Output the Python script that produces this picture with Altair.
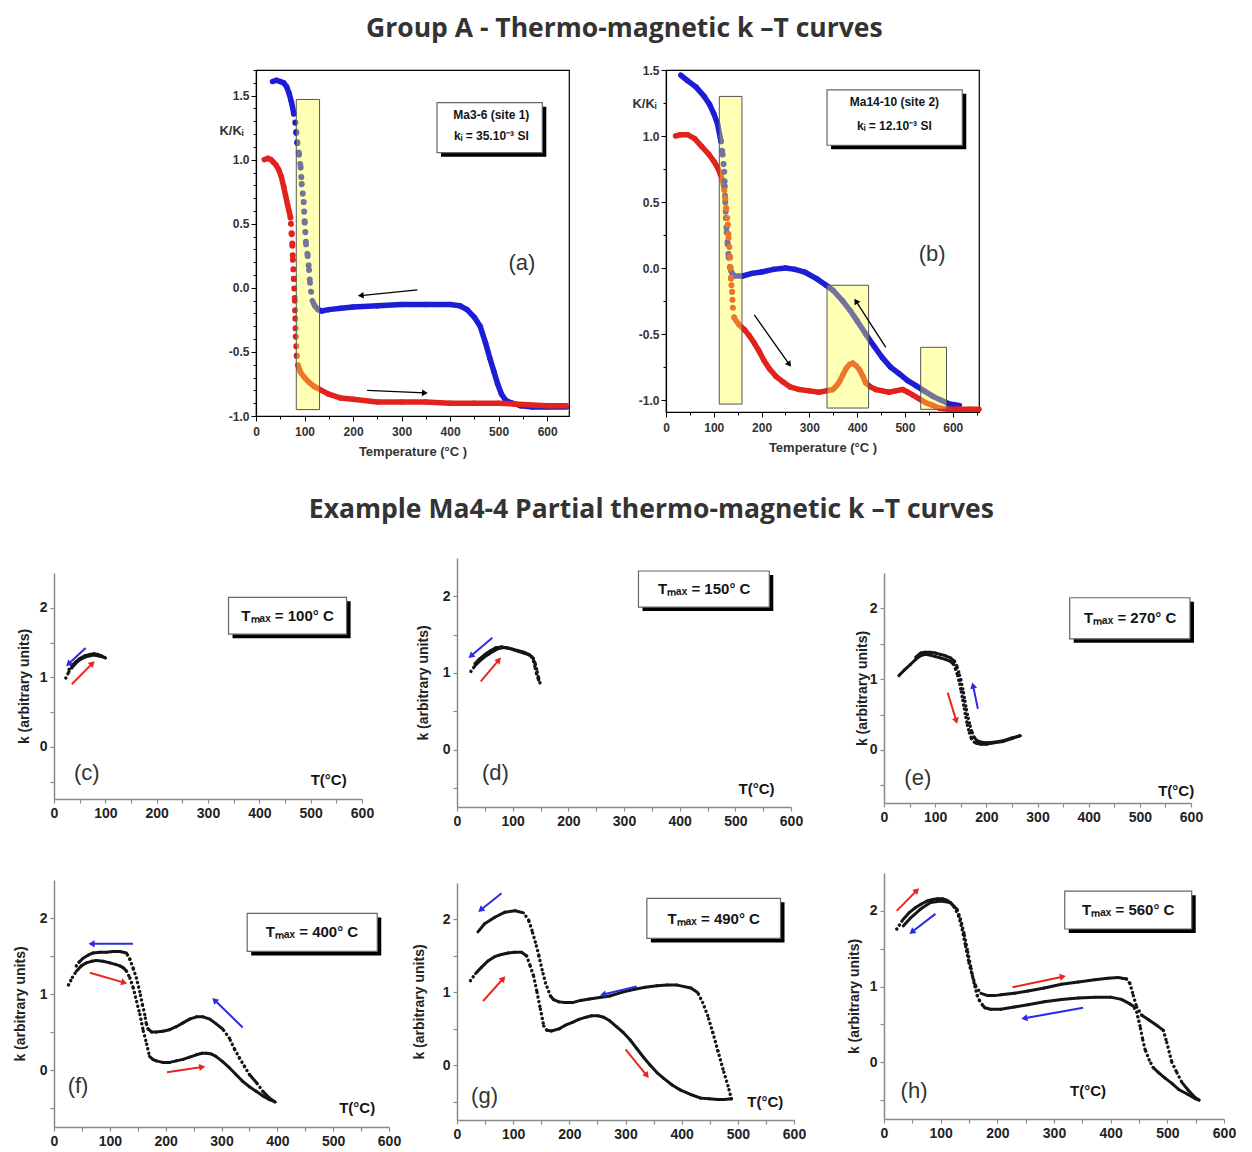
import math
import altair as alt
import pandas as pd

# ---------------------------------------------------------------- data
# (a) Ma3-6 (site 1)
A_COOL_T = [34, 42, 50, 57, 63, 68, 73, 78, 81, 83.1, 85.2, 88.7, 92.1, 94.2, 98.3, 100.3, 103.1, 106.5, 109.3, 111.3,
            113.5, 116, 121, 128, 135, 150, 175, 200, 250, 300, 350, 400, 420, 435, 450, 462, 473, 482, 490, 498, 506,
            515, 528, 545, 570, 600, 640]
A_COOL_K = [1.61, 1.62, 1.61, 1.60, 1.57, 1.52, 1.45, 1.36, 1.29, 1.21, 1.13, 1.04, 0.94, 0.81, 0.67, 0.51, 0.34, 0.25,
            0.14, 0.04, -0.03, -0.10, -0.14, -0.17, -0.18, -0.17, -0.16, -0.15, -0.14, -0.13, -0.13, -0.13, -0.14, -0.17,
            -0.23, -0.30, -0.43, -0.55, -0.65, -0.75, -0.83, -0.88, -0.90, -0.92, -0.93, -0.93, -0.93]
A_HEAT_T = [17, 25, 31, 36, 41, 47, 52, 57, 61, 65, 68, 71, 72, 73.5, 75, 76, 78, 80, 81, 82, 84, 87, 92, 100, 110, 120,
            135, 150, 175, 200, 250, 300, 350, 400, 450, 500, 550, 600, 640]
A_HEAT_K = [1.00, 1.01, 1.00, 0.98, 0.96, 0.92, 0.87, 0.79, 0.72, 0.65, 0.60, 0.55, 0.50, 0.42, 0.33, 0.22, 0.07, -0.10,
            -0.24, -0.38, -0.53, -0.61, -0.66, -0.70, -0.74, -0.77, -0.80, -0.83, -0.86, -0.87, -0.89, -0.89, -0.89,
            -0.90, -0.90, -0.90, -0.91, -0.92, -0.92]

# (b) Ma14-10 (site 2)
B_COOL_T = [31, 45, 63, 80, 91, 100, 108, 115, 118.5, 122, 123, 124, 125.5, 127, 129, 131, 134, 137, 143, 160, 180, 200,
            225, 250, 270, 290, 315, 335, 350, 370, 385, 400, 418, 435, 453, 470, 488, 505, 523, 540, 558, 575, 593, 614]
B_COOL_K = [1.46, 1.42, 1.37, 1.30, 1.24, 1.17, 1.09, 0.96, 0.86, 0.73, 0.62, 0.50, 0.38, 0.27, 0.18, 0.08, 0.0, -0.03,
            -0.06, -0.06, -0.04, -0.03, -0.01, 0.0, -0.01, -0.03, -0.08, -0.13, -0.17, -0.25, -0.32, -0.40, -0.50, -0.59,
            -0.68, -0.75, -0.80, -0.85, -0.89, -0.93, -0.97, -1.00, -1.03, -1.04]
B_HEAT_T = [20, 30, 45, 60, 75, 90, 100, 108, 114, 118.5, 122, 124, 126, 128, 129.5, 131, 132.5, 134, 135, 136, 137,
            138.3, 139, 140, 143, 153, 165, 174, 185, 195, 205, 216, 230, 244, 260, 279, 300, 320, 335, 349, 357, 363,
            370, 377, 384, 391, 398, 405, 412, 418, 428, 439, 453, 467, 480, 495, 506, 516, 530, 544, 558, 572, 590,
            614, 635, 655]
B_HEAT_K = [1.00, 1.01, 1.01, 0.98, 0.92, 0.86, 0.81, 0.76, 0.71, 0.66, 0.59, 0.53, 0.45, 0.38, 0.33, 0.23, 0.16, 0.08,
            0.0, -0.08, -0.13, -0.18, -0.24, -0.30, -0.38, -0.43, -0.47, -0.51, -0.57, -0.63, -0.70, -0.76, -0.82,
            -0.86, -0.90, -0.92, -0.93, -0.94, -0.93, -0.92, -0.89, -0.86, -0.81, -0.76, -0.73, -0.72, -0.74, -0.77,
            -0.82, -0.87, -0.90, -0.92, -0.93, -0.94, -0.93, -0.92, -0.94, -0.96, -0.99, -1.02, -1.04, -1.06, -1.07,
            -1.07, -1.07, -1.07]

# (c) Tmax = 100 C
C_HEAT_T = [23, 29, 35, 42, 50, 60, 70, 78, 85, 92, 100]
C_HEAT_K = [0.99, 1.08, 1.14, 1.20, 1.25, 1.29, 1.31, 1.32, 1.31, 1.30, 1.28]
C_COOL_T = [100, 92, 85, 78, 70, 60, 50, 42, 35, 29]
C_COOL_K = [1.28, 1.31, 1.33, 1.34, 1.33, 1.31, 1.27, 1.22, 1.17, 1.11]

# (d) Tmax = 150 C
D_HEAT_T = [25, 32, 40, 48, 58, 67, 75, 84, 93, 102, 111, 120, 128, 134, 138, 140.6, 143, 146.5, 149]
D_HEAT_K = [1.02, 1.09, 1.15, 1.20, 1.25, 1.29, 1.32, 1.33, 1.32, 1.30, 1.28, 1.26, 1.24, 1.21, 1.15, 1.06, 0.99, 0.91,
            0.87]
D_COOL_T = [149, 146, 143, 140, 137, 130, 120, 110, 100, 90, 80, 70, 60, 50, 40, 32]
D_COOL_K = [0.87, 0.95, 1.05, 1.13, 1.19, 1.24, 1.27, 1.29, 1.31, 1.33, 1.34, 1.33, 1.29, 1.24, 1.18, 1.12]

# (e) Tmax = 270 C
E_HEAT_T = [29, 40, 52, 62, 71, 80, 90, 100, 110, 120, 130, 136, 140, 144, 148, 151, 154, 157, 160, 163, 167, 171, 176,
            182, 190, 200, 215, 233, 250, 266]
E_HEAT_K = [1.05, 1.13, 1.21, 1.28, 1.33, 1.35, 1.34, 1.32, 1.30, 1.28, 1.25, 1.21, 1.14, 1.05, 0.93, 0.82, 0.70, 0.58,
            0.46, 0.35, 0.24, 0.16, 0.11, 0.09, 0.08, 0.08, 0.10, 0.12, 0.16, 0.20]
E_COOL_T = [266, 250, 233, 215, 200, 190, 182, 176, 171, 167, 163, 160, 157, 154, 150, 146, 142, 138, 130, 120, 110,
            100, 90, 80, 72, 62]
E_COOL_K = [0.20, 0.17, 0.13, 0.11, 0.10, 0.11, 0.13, 0.18, 0.27, 0.38, 0.50, 0.62, 0.74, 0.86, 0.99, 1.10, 1.19, 1.25,
            1.30, 1.33, 1.35, 1.37, 1.38, 1.38, 1.37, 1.31]

# (f) Tmax = 400 C
F_HEAT_T = [26, 33, 40, 49, 58, 67, 76, 88, 100, 110, 118, 125, 130, 136, 142, 148, 154, 160, 166, 171, 177, 183, 195,
            207, 219, 231, 243, 255, 265, 273, 282, 290, 302, 314, 326, 338, 350, 362, 374, 386, 396]
F_HEAT_K = [1.12, 1.22, 1.30, 1.37, 1.41, 1.43, 1.44, 1.43, 1.41, 1.39, 1.37, 1.34, 1.30, 1.21, 1.08, 0.90, 0.73, 0.51,
            0.34, 0.18, 0.14, 0.12, 0.10, 0.10, 0.12, 0.14, 0.17, 0.20, 0.22, 0.22, 0.21, 0.18, 0.11, 0.03, -0.06, -0.15,
            -0.22, -0.28, -0.34, -0.39, -0.42]
F_COOL_T = [396, 386, 374, 362, 350, 341, 332, 323, 314, 302, 290, 279, 267, 255, 243, 231, 219, 207, 195, 183, 175,
            168.5, 165, 162.5, 158.3, 153.6, 147.6, 141.7, 135.7, 129.8, 118, 106, 94, 82, 70, 61, 52, 45, 38]
F_COOL_K = [-0.42, -0.37, -0.28, -0.16, -0.06, 0.05, 0.16, 0.28, 0.42, 0.54, 0.61, 0.67, 0.70, 0.70, 0.67, 0.62, 0.57,
            0.53, 0.51, 0.50, 0.50, 0.54, 0.62, 0.73, 0.86, 1.03, 1.21, 1.34, 1.46, 1.54, 1.56, 1.56, 1.55, 1.55, 1.54,
            1.51, 1.47, 1.42, 1.35]

# (g) Tmax = 490 C
G_HEAT_T = [24, 33, 43, 55, 67, 79, 91, 103, 115, 124, 130.5, 136.5, 142.5, 148.5, 154.5, 160, 168, 181.6, 193, 205.6,
            217, 229.7, 240, 250.8, 261, 272, 284, 296, 308, 320, 332, 344, 356, 368, 383, 398, 416, 434, 449, 464, 476,
            488.5]
G_HEAT_K = [1.16, 1.26, 1.34, 1.43, 1.49, 1.52, 1.54, 1.55, 1.55, 1.50, 1.36, 1.22, 1.00, 0.77, 0.54, 0.48, 0.47, 0.50,
            0.55, 0.59, 0.63, 0.66, 0.68, 0.68, 0.66, 0.61, 0.53, 0.45, 0.35, 0.23, 0.11, 0.00, -0.10, -0.18, -0.27,
            -0.34, -0.40, -0.45, -0.46, -0.47, -0.47, -0.46]
G_COOL_T = [488.5, 482.5, 473.5, 464.4, 455.4, 446.4, 437.4, 428.4, 416.4, 392, 374, 356, 335, 314, 293, 272, 254, 236,
            220, 205.6, 192, 181.6, 172, 166.5, 157.5, 151.5, 145.5, 139.5, 133.5, 127.5, 118.5, 103.5, 85.5, 67.3,
            49.2, 37.2]
G_COOL_K = [-0.46, -0.28, -0.05, 0.20, 0.45, 0.68, 0.86, 1.00, 1.06, 1.10, 1.10, 1.09, 1.07, 1.04, 1.00, 0.95, 0.93,
            0.91, 0.89, 0.86, 0.86, 0.87, 0.90, 0.95, 1.13, 1.31, 1.51, 1.69, 1.85, 1.99, 2.09, 2.12, 2.10, 2.03, 1.94,
            1.83]

# (h) Tmax = 560 C
H_HEAT_T = [22.5, 34, 45, 55, 66, 76, 86, 94, 103, 111, 118, 124, 132, 138, 144, 150, 156, 162, 171, 183, 195, 206, 230,
            254, 283, 313, 343, 372, 395, 413, 428, 434, 440, 446, 455, 467, 481, 493, 499, 508, 517, 526, 537, 549.5,
            556]
H_HEAT_K = [1.76, 1.89, 1.98, 2.04, 2.09, 2.13, 2.15, 2.16, 2.16, 2.14, 2.10, 2.05, 1.93, 1.75, 1.53, 1.31, 1.14, 1.00,
            0.91, 0.88, 0.88, 0.89, 0.91, 0.94, 0.98, 1.03, 1.06, 1.09, 1.11, 1.12, 1.10, 1.04, 0.88, 0.73, 0.62, 0.56,
            0.49, 0.42, 0.26, 0.00, -0.14, -0.27, -0.37, -0.47, -0.50]
H_COOL_T = [556, 549.5, 535, 520, 508, 496, 485, 475, 468, 460.6, 456, 451.7, 446, 440, 434, 419, 400, 372, 343, 313,
            283, 254, 230, 206, 188, 178, 173.5, 168, 164.6, 158.7, 152.8, 146.9, 141, 135, 129, 117, 100, 82, 64, 46,
            34]
H_COOL_K = [-0.50, -0.48, -0.42, -0.36, -0.28, -0.21, -0.14, -0.07, 0.03, 0.17, 0.32, 0.48, 0.66, 0.74, 0.77, 0.83,
            0.86, 0.86, 0.85, 0.83, 0.80, 0.76, 0.73, 0.70, 0.70, 0.72, 0.76, 0.82, 0.88, 1.05, 1.27, 1.49, 1.71, 1.89,
            2.02, 2.11, 2.13, 2.11, 2.02, 1.90, 1.80]

# annotations (data units of each panel)
A_RECTS = [(83, 131, -0.95, 1.47)]
B_RECTS = [(111.5, 159, -1.03, 1.30), (337, 424, -1.06, -0.13), (533, 587, -1.07, -0.60)]
ARROWS = {
    "a": [(332.6, -0.016, 215.8, -0.06, "cool"), (229, -0.80, 348, -0.82, "heat")],
    "b": [(184.7, -0.354, 258, -0.73, "heat"), (460, -0.60, 397.5, -0.25, "cool")],
    "c": [(61.6, 1.42, 28, 1.19, "cool"), (34.6, 0.90, 74.8, 1.20, "heat")],
    "d": [(63.5, 1.46, 25, 1.22, "cool"), (42.7, 0.89, 75.4, 1.17, "heat")],
    "e": [(124.5, 0.81, 141.3, 0.41, "heat"), (183.5, 0.58, 174, 0.91, "cool")],
    "f": [(141.4, 1.66, 67.3, 1.66, "cool"), (64.3, 1.28, 125.7, 1.15, "heat"),
          (338, 0.56, 287.5, 0.92, "cool"), (202.4, -0.03, 265.5, 0.04, "heat")],
    "g": [(79.4, 2.36, 42.1, 2.13, "cool"), (46.3, 0.88, 82.4, 1.19, "heat"),
          (320, 1.08, 259.9, 0.97, "cool"), (300, 0.22, 338, -0.14, "heat")],
    "h": [(22.5, 2.0, 58, 2.27, "heat"), (90.7, 1.96, 49.2, 1.72, "cool"),
          (226.8, 0.99, 315.6, 1.13, "heat"), (351.3, 0.72, 247.6, 0.58, "cool")],
}
BOXES = {
    "a": (373, 590, 1.055, 1.445), "b": (337, 620, 0.93, 1.35),
    "c": (340, 570, 1.62, 2.15), "d": (326, 561, 1.86, 2.33), "e": (363, 598, 1.57, 2.15),
    "f": (346, 579, 1.56, 2.06), "g": (338, 576, 1.74, 2.29), "h": (319, 543, 1.76, 2.26),
}
BOX_TEXT = {
    "a": [(485, 1.35, "Ma3-6 (site 1)"), (485, 1.185, "kᵢ = 35.10⁻³ SI")],
    "b": [(478, 1.26, "Ma14-10 (site 2)"), (478, 1.075, "kᵢ = 12.10⁻³ SI")],
    "c": [(455, 1.88, "Tₘₐₓ = 100° C")], "d": [(444, 2.10, "Tₘₐₓ = 150° C")],
    "e": [(481, 1.86, "Tₘₐₓ = 270° C")], "f": [(462, 1.81, "Tₘₐₓ = 400° C")],
    "g": [(457, 2.01, "Tₘₐₓ = 490° C")], "h": [(431, 2.01, "Tₘₐₓ = 560° C")],
}
PANEL_LABEL = {
    "a": (548, 0.195), "b": (557, 0.11), "c": (64, -0.37), "d": (69, -0.30), "e": (66, -0.39),
    "f": (43, -0.21), "g": (49, -0.42), "h": (53, -0.38),
}
T_LABEL = {"c": (535, -0.47), "d": (538, -0.52), "e": (571, -0.58), "f": (543, -0.50),
           "g": (549, -0.50), "h": (360, -0.38)}

TITLE_TOP = "Group A - Thermo-magnetic k \u2013T curves"
TITLE_MID = "Example Ma4-4  Partial thermo-magnetic k \u2013T curves"

CURVES = {
    "a": [(A_COOL_T, A_COOL_K, "cool"), (A_HEAT_T, A_HEAT_K, "heat")],
    "b": [(B_COOL_T, B_COOL_K, "cool"), (B_HEAT_T, B_HEAT_K, "heat")],
    "c": [(C_HEAT_T, C_HEAT_K, "heat"), (C_COOL_T, C_COOL_K, "cool")],
    "d": [(D_HEAT_T, D_HEAT_K, "heat"), (D_COOL_T, D_COOL_K, "cool")],
    "e": [(E_HEAT_T, E_HEAT_K, "heat"), (E_COOL_T, E_COOL_K, "cool")],
    "f": [(F_HEAT_T, F_HEAT_K, "heat"), (F_COOL_T, F_COOL_K, "cool")],
    "g": [(G_HEAT_T, G_HEAT_K, "heat"), (G_COOL_T, G_COOL_K, "cool")],
    "h": [(H_HEAT_T, H_HEAT_K, "heat"), (H_COOL_T, H_COOL_K, "cool")],
}

# ---------------------------------------------------------------- style / layout
FONT = "Liberation Sans"
TFONT = "Open Sans"
BLUE = "#1d1dd6"
RED = "#e2221c"
A_BLUE = "#2b2be2"
A_RED = "#e8261f"
INK = "#151515"

LAYOUT = {
    "a": dict(w=313, h=346, xdom=[0, 645], ydom=[-1.0, 1.70], big=True, ystep=0.1, ttx=-25, tty=60),
    "b": dict(w=313, h=342, xdom=[0, 655], ydom=[-1.09, 1.5], big=True, ystep=0.25, ttx=-22, tty=33),
    "c": dict(w=308, h=226, xdom=[0, 600], ydom=[-0.75, 2.5], big=False, ttx=-30),
    "d": dict(w=334, h=249, xdom=[0, 600], ydom=[-0.75, 2.5], big=False, ttx=-34),
    "e": dict(w=307, h=230, xdom=[0, 600], ydom=[-0.75, 2.5], big=False, ttx=-22),
    "f": dict(w=335, h=247, xdom=[0, 600], ydom=[-0.75, 2.5], big=False, ttx=-34),
    "g": dict(w=337, h=237, xdom=[0, 600], ydom=[-0.75, 2.5], big=False, ttx=-38),
    "h": dict(w=340, h=246, xdom=[0, 600], ydom=[-0.75, 2.5], big=False, ttx=-30),
}


def seg_frame(curves, sx, sy, thr, big):
    rows = []
    for T, K, kind in curves:
        col = (BLUE if kind == "cool" else RED) if big else INK
        for i in range(len(T) - 1):
            dx = abs(T[i + 1] - T[i]) * sx
            dy = abs(K[i + 1] - K[i]) * sy
            rows.append({"T": T[i], "K": K[i], "T2": T[i + 1], "K2": K[i + 1], "c": col,
                         "steep": bool(dy > thr * max(dx, 1e-9))})
    return pd.DataFrame(rows)


def build_panel(name):
    p = LAYOUT[name]
    W, H, xd, yd, big = p["w"], p["h"], p["xdom"], p["ydom"], p["big"]
    sx = W / (xd[1] - xd[0])
    sy = H / (yd[1] - yd[0])
    xsc = alt.Scale(domain=xd, nice=False, zero=False)
    ysc = alt.Scale(domain=yd, nice=False, zero=False)
    xvals = [v for v in range(0, 651, 50) if v <= xd[1]]
    if big:
        n = int(round((yd[1] - (-1.0)) / p["ystep"]))
        yvals = [round(-1.0 + p["ystep"] * i, 3) for i in range(n + 1) if -1.0 + p["ystep"] * i <= yd[1] + 1e-9]
        common = dict(tickColor="black", tickWidth=1, domainColor="black", domainWidth=1.2,
                      labelFont=FONT, labelFontSize=12, labelFontWeight="bold", labelColor="#333",
                      labelOverlap=False, labelFlush=False, grid=False,
                      titleFont=FONT, titleFontSize=13, titleFontWeight="bold", titleColor="#333")
        xaxis = alt.Axis(values=xvals, labelExpr="datum.value % 100 == 0 ? datum.label : ''",
                         tickSize={"condition": {"test": "datum.value % 100 == 0", "value": 5}, "value": 3},
                         labelPadding=5, titlePadding=8, **common)
        ytest = "abs(datum.value*2 - round(datum.value*2)) < 0.001"
        yaxis = alt.Axis(values=yvals,
                         labelExpr=ytest + " ? replace(format(datum.value, '.1f'), '\u2212', '-') : ''",
                         tickSize={"condition": {"test": ytest, "value": 5}, "value": 3},
                         labelPadding=2, titleAngle=0, titleX=p["ttx"], titleY=p["tty"],
                         titleAlign="center", titleBaseline="middle", **common)
        xtitle, ytitle = "Temperature (°C )", "K/Kᵢ"
        lw, dw, gap, thr, aw, hs = 5.5, 6.0, 9.5, 6.0, 1.3, 45
    else:
        yvals = [-0.5, 0, 0.5, 1, 1.5, 2]
        common = dict(tickColor="#8a8a8a", tickWidth=1.2, tickSize=4, domainColor="#8a8a8a", domainWidth=1.5,
                      labelFont=FONT, labelFontSize=14, labelFontWeight="bold", labelColor="#222",
                      labelOverlap=False, labelFlush=False, grid=False,
                      titleFont=FONT, titleFontSize=14, titleFontWeight="bold", titleColor="#222")
        xaxis = alt.Axis(values=xvals, labelExpr="datum.value % 100 == 0 ? datum.label : ''",
                         labelPadding=3, **common)
        yaxis = alt.Axis(values=yvals, labelExpr="datum.value % 1 == 0 ? format(datum.value, 'd') : ''",
                         labelPadding=3, titleAngle=270, titleX=p["ttx"], titleY=H / 2,
                         titleAlign="center", titleBaseline="middle", **common)
        xtitle, ytitle = "", "k (arbitrary units)"
        lw, dw, gap, thr, aw, hs = 3.0, 3.4, 4.6, 1.3, 2.0, 50

    def X(f="T"):
        return alt.X(f"{f}:Q", scale=xsc, axis=xaxis, title=xtitle)

    def Y(f="K"):
        return alt.Y(f"{f}:Q", scale=ysc, axis=yaxis, title=ytitle)

    layers = []
    segs = seg_frame(CURVES[name], sx, sy, thr, big)
    solid = segs[~segs["steep"]].drop(columns=["steep"])
    steep = segs[segs["steep"]].drop(columns=["steep"])
    enc = dict(x=X(), y=Y(), x2="T2", y2="K2", color=alt.Color("c:N", scale=None))
    layers.append(alt.Chart(solid).mark_rule(strokeWidth=lw, strokeCap="round").encode(**enc))
    if len(steep):
        layers.append(alt.Chart(steep).mark_rule(strokeWidth=dw, strokeCap="round",
                                                 strokeDash=[0.1, gap]).encode(**enc))

    rects = A_RECTS if name == "a" else (B_RECTS if name == "b" else [])
    if rects:
        rdf = pd.DataFrame([{"T": r[0], "T2": r[1], "K": r[2], "K2": r[3]} for r in rects])
        layers.append(alt.Chart(rdf).mark_rect(fill="#ffff40", fillOpacity=0.38, stroke="#555",
                                               strokeWidth=1).encode(x=X(), x2="T2", y=Y(), y2="K2"))

    # arrows
    arr_rows, head_rows = [], []
    for (t1, k1, t2, k2, kind) in ARROWS[name]:
        col = "black" if big else (A_BLUE if kind == "cool" else A_RED)
        arr_rows.append({"T": t1, "K": k1, "T2": t2, "K2": k2, "c": col})
        ang = math.degrees(math.atan2((t2 - t1) * sx, (k2 - k1) * sy)) % 360
        head_rows.append({"T": t2, "K": k2, "ang": ang, "c": col})
    layers.append(alt.Chart(pd.DataFrame(arr_rows)).mark_rule(strokeWidth=aw).encode(
        x=X(), y=Y(), x2="T2", y2="K2", color=alt.Color("c:N", scale=None)))
    layers.append(alt.Chart(pd.DataFrame(head_rows)).mark_point(shape="triangle-up", filled=True, size=hs,
                                                                opacity=1).encode(
        x=X(), y=Y(), angle=alt.Angle("ang:Q", scale=None), color=alt.Color("c:N", scale=None)))

    # framed text box with drop shadow
    b = BOXES[name]
    bdf = pd.DataFrame([{"T": b[0], "T2": b[1], "K": b[2], "K2": b[3]}])
    layers.append(alt.Chart(bdf).mark_rect(color="black", xOffset=4, x2Offset=4, yOffset=4, y2Offset=4).encode(
        x=X(), x2="T2", y=Y(), y2="K2"))
    layers.append(alt.Chart(bdf).mark_rect(fill="white", stroke="#666", strokeWidth=1.2).encode(
        x=X(), x2="T2", y=Y(), y2="K2"))
    tdf = pd.DataFrame([{"T": t[0], "K": t[1], "label": t[2]} for t in BOX_TEXT[name]])
    layers.append(alt.Chart(tdf).mark_text(font=FONT, fontSize=12 if big else 15, fontWeight="bold",
                                           color=INK, baseline="middle").encode(x=X(), y=Y(), text="label:N"))

    # panel letter and temperature label
    pl = PANEL_LABEL[name]
    ldf = pd.DataFrame([{"T": pl[0], "K": pl[1], "label": f"({name})"}])
    layers.append(alt.Chart(ldf).mark_text(font=FONT, fontSize=22, color="#333", baseline="middle").encode(
        x=X(), y=Y(), text="label:N"))
    if name in T_LABEL:
        tl = T_LABEL[name]
        tldf = pd.DataFrame([{"T": tl[0], "K": tl[1], "label": "T(°C)"}])
        layers.append(alt.Chart(tldf).mark_text(font=FONT, fontSize=15, fontWeight="bold", color=INK,
                                                baseline="middle").encode(x=X(), y=Y(), text="label:N"))

    ch = alt.layer(*layers).properties(width=W, height=H)
    if big:
        ch = ch.properties(view=alt.ViewBackground(stroke="black", strokeWidth=1.2))
    return ch


def spacer(w, h):
    return alt.Chart(pd.DataFrame({"v": []})).mark_point().encode(
        x=alt.value(0), y=alt.value(0)).properties(width=w, height=h)


def ttl(text, offset, dx=0):
    return alt.TitleParams(text, font=TFONT, fontSize=26.5, fontWeight="bold", color="#333",
                           anchor="middle", offset=offset, dx=dx)


P = {k: build_panel(k) for k in LAYOUT}

row1 = alt.hconcat(spacer(105, 346), P["a"], P["b"], spacing=97, bounds="flush")
col1 = alt.vconcat(spacer(308, 15), P["c"], spacer(308, 81), P["f"], spacing=0, bounds="flush")
col2 = alt.vconcat(P["d"], spacer(334, 76), P["g"], spacing=0, bounds="flush")
col3 = alt.vconcat(spacer(307, 15), P["e"], spacer(307, 70), P["h"], spacing=0, bounds="flush")
rows23 = alt.hconcat(col1, spacer(11, 10), col2, spacer(41, 10), col3, spacing=0,
                     title=ttl(TITLE_MID, 35, dx=27))

chart = alt.vconcat(row1, rows23, spacing=37, title=ttl(TITLE_TOP, 21),
                    padding={"left": 5, "top": 7, "right": 5, "bottom": 5}).configure_view(stroke=None)

chart.save("out.html", embed_options={"renderer": "svg", "actions": False})
